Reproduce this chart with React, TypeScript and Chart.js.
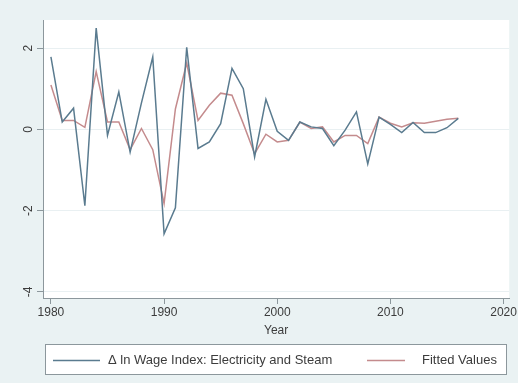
import React, { useEffect, useRef } from "react";
import { Chart, registerables } from "chart.js";

Chart.register(...registerables);

const years = [
  1980, 1981, 1982, 1983, 1984, 1985, 1986, 1987, 1988, 1989,
  1990, 1991, 1992, 1993, 1994, 1995, 1996, 1997, 1998, 1999,
  2000, 2001, 2002, 2003, 2004, 2005, 2006, 2007, 2008, 2009,
  2010, 2011, 2012, 2013, 2014, 2015, 2016,
];

const wageChange = [
  1.78, 0.18, 0.52, -1.88, 2.49, -0.15, 0.92, -0.56, 0.65, 1.78,
  -2.57, -1.93, 2.02, -0.47, -0.31, 0.14, 1.5, 1.0, -0.68, 0.74,
  -0.05, -0.27, 0.18, 0.06, 0.02, -0.4, -0.02, 0.43, -0.85, 0.3,
  0.12, -0.08, 0.17, -0.08, -0.08, 0.04, 0.27,
];

const fittedValues = [
  1.09, 0.22, 0.22, 0.05, 1.42, 0.18, 0.18, -0.5, 0.02, -0.5,
  -1.83, 0.5, 1.63, 0.22, 0.59, 0.89, 0.84, 0.14, -0.6, -0.12,
  -0.31, -0.27, 0.18, 0.02, 0.06, -0.31, -0.15, -0.15, -0.35, 0.3,
  0.15, 0.06, 0.16, 0.15, 0.2, 0.25, 0.27,
];

const xTicks = [1980, 1990, 2000, 2010, 2020];
const yTicks = [-4, -2, 0, 2];
const seriesLabels = ["Δ ln Wage Index: Electricity and Steam", "Fitted Values"];
const xTitle = "Year";

const FONT = "'Liberation Sans', Arial, sans-serif";
const TEXT = "#3c3c3c";
const AXIS = "#8c979c";
const BLUE = "#5a7b8f";
const RED = "#c48b8d";
const GRAPH_BG = "#eaf2f3";

const backgroundPlugin = {
  id: "stataBackground",
  beforeDraw(chart: any) {
    const { ctx, width, height, chartArea } = chart;
    ctx.save();
    ctx.fillStyle = GRAPH_BG;
    ctx.fillRect(0, 0, width, height);
    ctx.fillStyle = "#ffffff";
    ctx.fillRect(chartArea.left, chartArea.top, chartArea.right - chartArea.left, chartArea.bottom - chartArea.top);
    ctx.restore();
  },
};

const legendPlugin = {
  id: "stataLegend",
  afterDraw(chart: any) {
    const { ctx } = chart;
    const boxL = 45, boxT = 344, boxR = 507, boxB = 375;
    const cy = (boxT + boxB) / 2 + 1;
    ctx.save();
    ctx.fillStyle = "#ffffff";
    ctx.fillRect(boxL, boxT, boxR - boxL, boxB - boxT);
    ctx.strokeStyle = AXIS;
    ctx.lineWidth = 1;
    ctx.strokeRect(boxL + 0.5, boxT + 0.5, boxR - boxL - 1, boxB - boxT - 1);
    const items = [
      { x0: 53, x1: 100, tx: 108 },
      { x0: 367, x1: 405, tx: 422 },
    ];
    chart.data.datasets.forEach((ds: any, i: number) => {
      const it = items[i];
      ctx.strokeStyle = ds.borderColor;
      ctx.lineWidth = 1.4;
      ctx.beginPath();
      ctx.moveTo(it.x0, cy);
      ctx.lineTo(it.x1, cy);
      ctx.stroke();
      ctx.fillStyle = TEXT;
      ctx.font = `13px ${FONT}`;
      ctx.textAlign = "left";
      ctx.textBaseline = "middle";
      ctx.fillText(ds.label, it.tx, cy);
    });
    ctx.restore();
  },
};

export default function App() {
  const canvasRef = useRef<HTMLCanvasElement | null>(null);

  useEffect(() => {
    document.body.style.margin = "0";
    const canvas = canvasRef.current;
    if (!canvas) return;
    const chart = new Chart(canvas, {
      type: "line",
      data: {
        datasets: [
          {
            label: seriesLabels[0],
            data: years.map((y, i) => ({ x: y, y: wageChange[i] })),
            borderColor: BLUE,
            borderWidth: 1.5,
            pointRadius: 0,
            tension: 0,
            fill: false,
          },
          {
            label: seriesLabels[1],
            data: years.map((y, i) => ({ x: y, y: fittedValues[i] })),
            borderColor: RED,
            borderWidth: 1.5,
            pointRadius: 0,
            tension: 0,
            fill: false,
          },
        ],
      },
      options: {
        animation: false,
        responsive: false,
        devicePixelRatio: 1,
        layout: { padding: { left: 0, top: 20, right: 8, bottom: 45 } },
        plugins: {
          legend: { display: false },
          tooltip: { enabled: false },
        },
        scales: {
          x: {
            type: "linear",
            min: 1979.3,
            max: 2020.5,
            afterBuildTicks: (s: any) => {
              s.ticks = xTicks.map((v) => ({ value: v }));
            },
            afterFit: (s: any) => {
              s.height = 40;
            },
            ticks: {
              autoSkip: false,
              maxRotation: 0,
              minRotation: 0,
              padding: 1,
              color: TEXT,
              font: { family: FONT, size: 12 },
              callback: (v: any) => String(v),
            },
            grid: {
              drawOnChartArea: false,
              drawTicks: true,
              tickLength: 6,
              tickColor: AXIS,
            },
            border: { display: true, color: AXIS, width: 1 },
            title: {
              display: true,
              text: xTitle,
              color: TEXT,
              font: { family: FONT, size: 12 },
              padding: { top: 0, bottom: 0 },
            },
          },
          y: {
            type: "linear",
            min: -4.15,
            max: 2.69,
            afterBuildTicks: (s: any) => {
              s.ticks = yTicks.map((v) => ({ value: v }));
            },
            afterFit: (s: any) => {
              s.width = 43;
            },
            ticks: {
              autoSkip: false,
              minRotation: 90,
              maxRotation: 90,
              crossAlign: "center",
              padding: 3,
              color: TEXT,
              font: { family: FONT, size: 12 },
              callback: (v: any) => String(v),
            },
            grid: {
              color: "#e9f0f2",
              lineWidth: 1,
              drawTicks: true,
              tickLength: 6,
              tickColor: AXIS,
            },
            border: { display: true, color: AXIS, width: 1 },
          },
        },
      } as any,
      plugins: [backgroundPlugin, legendPlugin],
    });
    return () => chart.destroy();
  }, []);

  return (
    <div style={{ position: "fixed", left: 0, top: 0, width: 518, height: 383 }}>
      <canvas ref={canvasRef} width={518} height={383} />
    </div>
  );
}
